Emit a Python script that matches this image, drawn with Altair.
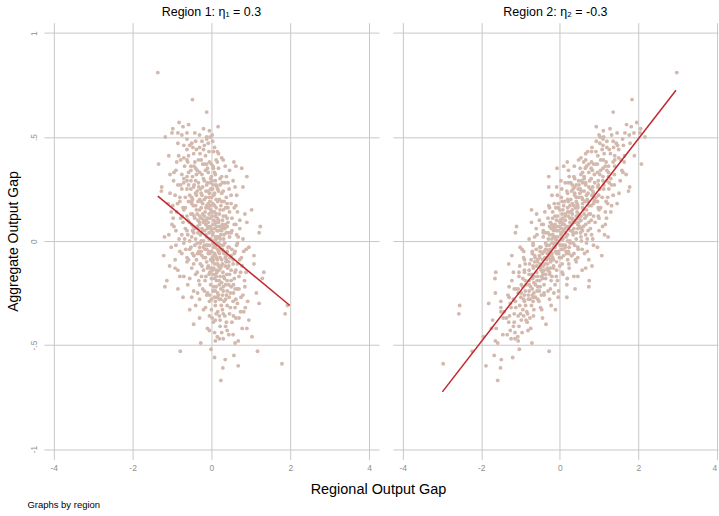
import altair as alt
import pandas as pd

# Aggregate output gap (shared y values) and the two regional output gaps
agg_gap = [
    0.81, 0.68, 0.62,
    0.55, 0.57, 0.55, 0.54, 0.52, 0.52, 0.52, 0.50, 0.53, 0.51, 0.50, 0.51,
    0.49, 0.47, 0.45, 0.48, 0.46, 0.44, 0.49, 0.50, 0.48, 0.43, 0.42, 0.40, 0.42, 0.41, 0.41, 0.41, 0.46, 0.44, 0.43, 0.45,
    0.37, 0.38, 0.35, 0.31, 0.39, 0.38, 0.36, 0.35, 0.39, 0.37, 0.34, 0.33, 0.38, 0.36, 0.32, 0.35, 0.39, 0.31, 0.34, 0.32,
    0.30, 0.31, 0.33, 0.30, 0.31, 0.37, 0.34, 0.36, 0.33, 0.39, 0.30, 0.36, 0.32, 0.35, 0.38,
    0.26, 0.24, 0.29, 0.27, 0.22, 0.28, 0.25, 0.21, 0.29, 0.26, 0.23, 0.20, 0.28, 0.25, 0.22,
    0.29, 0.27, 0.24, 0.21, 0.28, 0.25, 0.22, 0.29, 0.26, 0.20, 0.27, 0.23, 0.28, 0.21, 0.25,
    0.29, 0.22, 0.26, 0.24, 0.27, 0.20, 0.23, 0.26, 0.21, 0.29, 0.24, 0.27, 0.22, 0.25, 0.28,
    0.15, 0.18, 0.11, 0.14, 0.19, 0.12, 0.16, 0.19, 0.10, 0.13, 0.17, 0.11, 0.15, 0.19, 0.12,
    0.16, 0.18, 0.10, 0.14, 0.17, 0.11, 0.13, 0.19, 0.15, 0.12, 0.18, 0.10, 0.14, 0.16, 0.11,
    0.19, 0.13, 0.17, 0.10, 0.15, 0.12, 0.18, 0.14, 0.11, 0.16, 0.10, 0.13, 0.17, 0.12, 0.16,
    0.11, 0.18, 0.14, 0.19, 0.15, 0.12, 0.17, 0.10, 0.13, 0.16,
    0.02, 0.07, 0.04, 0.08, 0.05, 0.01, 0.09, 0.06, 0.03, 0.00, 0.08, 0.04, 0.01, 0.07, 0.09,
    0.03, 0.06, 0.00, 0.05, 0.08, 0.02, 0.09, 0.04, 0.07, 0.01, 0.05, 0.03, 0.08, 0.06, 0.00,
    0.09, 0.02, 0.05, 0.07, 0.03, 0.08, 0.01, 0.06, 0.04, 0.09, 0.02, 0.05, 0.08, 0.03, 0.06,
    0.01, 0.09, 0.04, 0.07, 0.02, 0.06, 0.00, 0.08, 0.03, 0.05, 0.09, 0.01, 0.07, 0.04, 0.06,
    -0.07, -0.03, -0.09, -0.05, -0.01, -0.08, -0.04, -0.06, -0.02, -0.09, -0.05, -0.01, -0.07, -0.03, -0.08,
    -0.04, -0.06, -0.02, -0.09, -0.05, -0.01, -0.07, -0.03, -0.08, -0.04, -0.06, -0.02, -0.09, -0.05, -0.01,
    -0.07, -0.03, -0.08, -0.04, -0.06, -0.02, -0.09, -0.05, -0.03, -0.07, -0.04, -0.06, -0.02, -0.08, -0.01,
    -0.05, -0.09, -0.03, -0.07, -0.04, -0.06, -0.02, -0.08, -0.05, -0.01,
    -0.12, -0.19, -0.11, -0.15, -0.18, -0.14, -0.17, -0.10, -0.13, -0.16, -0.19, -0.11, -0.14, -0.17, -0.12,
    -0.15, -0.18, -0.10, -0.13, -0.16, -0.19, -0.11, -0.14, -0.17, -0.12, -0.15, -0.18, -0.10, -0.13, -0.16,
    -0.19, -0.11, -0.14, -0.17, -0.12, -0.15, -0.18, -0.13, -0.16, -0.11, -0.19, -0.14, -0.17, -0.12, -0.15,
    -0.22, -0.25, -0.27, -0.21, -0.24, -0.28, -0.23, -0.26, -0.29, -0.21, -0.24, -0.27, -0.22, -0.25, -0.28,
    -0.23, -0.26, -0.29, -0.21, -0.24, -0.27, -0.22, -0.25, -0.28, -0.23, -0.26, -0.29, -0.21, -0.24, -0.27,
    -0.22, -0.25, -0.28, -0.23, -0.26,
    -0.35, -0.31, -0.30, -0.33, -0.37, -0.32, -0.36, -0.39, -0.31, -0.34, -0.38, -0.33, -0.36, -0.31, -0.35,
    -0.39, -0.32, -0.37, -0.34, -0.38, -0.33, -0.36,
    -0.46, -0.49, -0.42, -0.44, -0.41, -0.47, -0.43, -0.45, -0.48, -0.42, -0.46, -0.40,
    -0.53, -0.52, -0.56, -0.55, -0.53, -0.59, -0.60, -0.61, -0.67, -0.57,
    # second pass over the dense core of the cloud
    0.47, 0.44, 0.42, 0.48, 0.45, 0.41, 0.47, 0.43, 0.46, 0.40,
    0.33, 0.38, 0.31, 0.36, 0.34, 0.39, 0.32, 0.37, 0.35, 0.30, 0.33, 0.38, 0.31, 0.36, 0.34, 0.39, 0.32, 0.37,
    0.23, 0.27, 0.21, 0.25, 0.29, 0.22, 0.26, 0.20, 0.24, 0.28, 0.21, 0.25, 0.29, 0.23, 0.27, 0.20, 0.24, 0.28,
    0.22, 0.26, 0.23, 0.27, 0.21, 0.25,
    0.14, 0.18, 0.11, 0.16, 0.12, 0.19, 0.13, 0.17, 0.10, 0.15, 0.19, 0.12, 0.16, 0.11, 0.18, 0.14, 0.17, 0.13,
    0.10, 0.15, 0.19, 0.12, 0.16, 0.11, 0.18, 0.14, 0.13, 0.17,
    0.03, 0.07, 0.01, 0.05, 0.09, 0.02, 0.06, 0.04, 0.08, 0.00, 0.05, 0.09, 0.03, 0.07, 0.01, 0.06, 0.04, 0.08,
    0.02, 0.05, 0.09, 0.01, 0.06, 0.03, 0.07, 0.04, 0.08, 0.02, 0.05, 0.07,
    -0.02, -0.06, -0.09, -0.03, -0.07, -0.01, -0.05, -0.08, -0.04, -0.02, -0.06, -0.09, -0.03, -0.07, -0.01,
    -0.05, -0.08, -0.04, -0.02, -0.06, -0.09, -0.03, -0.07, -0.05, -0.01, -0.08, -0.04, -0.06, -0.02, -0.09,
    -0.13, -0.17, -0.11, -0.15, -0.19, -0.12, -0.16, -0.10, -0.14, -0.18, -0.11, -0.15, -0.19, -0.13, -0.17,
    -0.12, -0.16, -0.10, -0.14, -0.18, -0.11, -0.15, -0.19, -0.13, -0.17, -0.12,
    -0.23, -0.27, -0.21, -0.25, -0.29, -0.22, -0.26, -0.20, -0.24, -0.28, -0.21, -0.25, -0.29, -0.23, -0.27,
    -0.22, -0.26, -0.24, -0.28, -0.21,
    -0.33, -0.37, -0.31, -0.35, -0.39, -0.32, -0.36, -0.30, -0.34, -0.38, -0.31, -0.35, -0.37, -0.32,
    -0.43, -0.47, -0.41, -0.45, -0.49, -0.42, -0.44, -0.48,
    0.52, 0.56, 0.51, 0.54,
]

region1_gap = [
    -1.36, -0.48, -0.12,
    0.17, -0.82, -0.72, -0.98, -1.00, -0.85, -0.62, -1.17, -0.05, -0.30, -0.12, 0.02,
    -0.62, -0.50, -0.47, -0.24, -0.18, -0.20, -0.12, -0.03, 0.03, 0.15, 0.18, 0.26, -0.29, -0.58, -0.83, -1.08, -0.70, -0.38, -0.06, 0.08,
    -1.34, 0.57, 0.77, 0.90, -0.78, -0.60, -0.52, -0.40, -0.33, -0.22, -0.15, -0.08, -0.05, 0.04, 0.10,
    0.18, 0.30, 0.38, -0.90, -1.05, -0.70, -0.48, -0.30, -0.20, 0.00, -0.12, 0.46, -0.68, -0.58, 0.12,
    0.22, 0.62, -0.38, 0.05, -0.42,
    -1.26, -1.27, -0.96, -0.85, -0.92, -0.70, -0.62, -0.66, -0.52, -0.45, -0.40, -0.48, -0.33, -0.28, -0.24,
    -0.18, -0.12, -0.08, -0.14, -0.02, 0.03, 0.06, 0.10, 0.14, 0.12, 0.22, 0.26, 0.34, 0.38, 0.45,
    0.55, 0.64, 0.80, -0.36, -0.58, -0.30, -0.05, -0.22, 0.00, -0.40, 0.18, 0.05, -0.55, -0.75, 0.28,
    1.02, -1.10, -0.97, -0.88, -0.80, -0.74, -0.66, -0.58, -0.60, -0.52, -0.46, -0.42, -0.38, -0.34, -0.30,
    -0.26, -0.22, -0.20, -0.16, -0.12, -0.10, -0.06, -0.04, -0.02, 0.02, 0.04, 0.06, 0.08, 0.12, 0.15,
    0.16, 0.20, 0.24, 0.28, 0.30, 0.36, 0.40, 0.46, 0.52, 0.58, 0.72, 0.85, -0.98, -0.44, -0.08,
    -0.26, -0.50, 0.00, 0.32, -0.70, 0.10, 0.62, -0.14, -0.36, 0.36,
    -1.19, 1.24, 1.21, -1.00, -0.90, -0.82, -0.72, -0.66, -0.60, -0.55, -0.50, -0.45, -0.40, -0.36, -0.30,
    -0.28, -0.24, -0.20, -0.17, -0.14, -0.12, -0.08, -0.06, -0.03, -0.02, 0.00, 0.03, 0.05, 0.08, 0.10,
    0.12, 0.15, 0.18, 0.21, 0.24, 0.28, 0.31, 0.34, 0.38, 0.42, 0.46, 0.52, 0.58, 0.64, 0.72,
    0.80, 0.90, -0.26, -0.46, 0.20, -0.10, 0.06, 0.36, -0.75, 0.26, -0.20, 0.12, 0.14, 0.44, -0.34,
    -1.21, -1.02, -0.92, -0.80, -0.70, -0.62, -0.55, -0.48, -0.42, -0.38, -0.32, -0.28, -0.24, -0.20, -0.15,
    -0.12, -0.08, -0.05, -0.02, 0.01, 0.04, 0.07, 0.10, 0.13, 0.16, 0.20, 0.23, 0.26, 0.30, 0.34,
    0.38, 0.42, 0.47, 0.52, 0.58, 0.64, 0.72, 0.82, 0.95, 1.08, -0.65, -0.35, -0.10, 0.02, 0.18,
    0.40, 0.55, -0.30, -0.45, 0.28, 0.08, -0.18, 0.35, -0.06, 0.12,
    -1.06, -1.13, 1.08, 1.33, 1.29, -0.85, -0.70, -0.62, -0.50, -0.40, -0.32, -0.28, -0.20, -0.14, -0.08,
    -0.04, 0.00, 0.03, 0.06, 0.10, 0.13, 0.16, 0.19, 0.22, 0.25, 0.29, 0.33, 0.37, 0.41, 0.46,
    0.50, 0.55, 0.62, 0.70, 0.78, 0.88, -0.55, -0.10, 0.04, 0.28, 0.40, 0.12, -0.25, 0.44, 0.60,
    -1.18, 1.14, -0.72, -0.60, -0.45, -0.30, -0.22, -0.12, -0.05, -0.02, 0.04, 0.08, 0.12, 0.16, 0.20,
    0.24, 0.28, 0.32, 0.36, 0.40, 0.45, 0.50, 0.56, 0.62, 0.70, 0.80, 0.92, 0.20, -0.18, 0.14,
    0.30, -0.35, 0.00, 0.60, 0.38,
    1.87, 1.93, 1.21, -0.55, -0.30, -0.15, -0.05, 0.05, 0.10, 0.16, 0.22, 0.28, 0.34, 0.40, 0.46,
    0.52, 0.60, 0.70, 0.82, 0.95, 0.00, 0.20,
    1.03, -0.27, -0.10, 0.08, 0.22, 0.30, 0.40, 0.55, 0.68, 0.78, 0.15, -0.45,
    -0.79, -0.01, 0.08, 0.57, 1.17, 1.79, 0.68, 0.29, 0.24, 0.35,
    # second pass over the dense core of the cloud
    -0.85, -0.62, -0.45, -0.40, -0.30, -0.15, -0.08, 0.05, -0.55, -0.70,
    -0.95, -0.88, -0.62, -0.44, -0.36, -0.26, -0.24, -0.18, -0.10, -0.02, 0.08, 0.15, 0.26, 0.35, -0.52, -0.62, -0.75, 0.00,
    -1.05, -0.78, -0.80, -0.52, -0.62, -0.38, -0.32, -0.18, -0.14, -0.10, -0.06, -0.02, 0.02, 0.08, 0.12, 0.20, 0.30, 0.42,
    0.50, 0.60, -0.26, -0.44, -0.50, 0.16,
    -1.02, -0.86, -0.78, -0.72, -0.62, -0.50, -0.48, -0.40, -0.34, -0.30, -0.26, -0.18, -0.14, -0.04, -0.08, 0.04, 0.08, 0.12,
    0.18, 0.22, 0.26, 0.30, 0.42, 0.40, 0.50, 0.66, -0.22, -0.02,
    -1.08, -0.95, -0.68, -0.62, -0.56, -0.50, -0.42, -0.34, -0.30, -0.26, -0.22, -0.18, -0.14, -0.10, -0.06, -0.01, 0.04, 0.08,
    0.10, 0.14, 0.18, 0.22, 0.26, 0.32, 0.40, 0.50, 0.62, 0.68, -0.48, 0.30,
    -0.90, -0.75, -0.58, -0.52, -0.44, -0.36, -0.26, -0.20, -0.16, -0.12, -0.04, 0.05, 0.06, 0.10, 0.14,
    0.18, 0.22, 0.25, 0.30, 0.32, 0.38, 0.45, 0.50, 0.60, 0.66, 0.76, 0.88, -0.30, 0.08, 0.15,
    -0.92, -0.80, -0.45, -0.36, -0.16, -0.24, -0.06, -0.12, 0.02, 0.08, 0.09, 0.14, 0.20, 0.23, 0.31,
    0.35, 0.39, 0.44, 0.50, 0.58, 0.66, 0.74, 0.84, -0.02, 0.12, 0.18,
    -0.85, -0.50, -0.30, -0.10, 0.10, 0.06, 0.18, 0.26, 0.30, 0.36, 0.44, 0.48, 0.55, 0.66, 0.75,
    0.85, -0.05, 0.10, 0.24, 0.56,
    -0.20, 0.02, 0.25, 0.30, 0.38, 0.48, 0.56, 0.66, 0.74, 0.10, -0.40, 0.12, 0.62, 0.86,
    -0.05, 0.20, 0.36, 0.44, 0.60, 0.90, 0.26, 0.10,
    -0.42, -0.58, -0.75, -0.20,
]

region2_gap = [
    2.98, 1.84, 1.36,
    0.93, 1.96, 1.82, 2.06, 2.04, 1.89, 1.66, 2.17, 1.11, 1.32, 1.12, 1.00,
    1.60, 1.44, 1.37, 1.20, 1.10, 1.08, 1.10, 1.03, 0.93, 0.71, 0.66, 0.54, 1.13, 1.40, 1.65, 1.90, 1.62, 1.26, 0.92, 0.82,
    2.08, 0.19, -0.07, -0.28, 1.56, 1.36, 1.24, 1.10, 1.11, 0.96, 0.83, 0.74, 0.81, 0.68, 0.54,
    0.52, 0.48, 0.24, 1.58, 1.69, 1.30, 1.10, 0.96, 0.80, 0.62, 0.86, 0.22, 1.40, 1.24, 0.66,
    0.38, 0.10, 1.02, 0.65, 1.18,
    1.78, 1.75, 1.54, 1.39, 1.36, 1.26, 1.12, 1.08, 1.10, 0.97, 0.86, 0.88, 0.89, 0.78, 0.68,
    0.76, 0.66, 0.56, 0.56, 0.58, 0.47, 0.38, 0.48, 0.38, 0.28, 0.32, 0.20, 0.22, 0.04, 0.05,
    0.03, -0.20, -0.28, 0.84, 1.12, 0.70, 0.51, 0.74, 0.42, 0.98, 0.30, 0.49, 0.99, 1.25, 0.28,
    -0.72, 1.46, 1.19, 1.16, 1.18, 0.98, 0.98, 0.96, 0.80, 0.78, 0.80, 0.64, 0.68, 0.72, 0.54,
    0.58, 0.58, 0.40, 0.44, 0.46, 0.32, 0.32, 0.42, 0.32, 0.22, 0.32, 0.14, 0.20, 0.20, 0.07,
    0.22, 0.06, 0.10, -0.08, 0.00, -0.12, -0.04, -0.18, -0.30, -0.26, -0.52, -0.59, 1.32, 0.68, 0.40,
    0.48, 0.86, 0.28, 0.06, 1.00, 0.14, -0.28, 0.34, 0.62, -0.04,
    1.23, -1.10, -1.13, 1.16, 1.00, 0.84, 0.90, 0.78, 0.66, 0.55, 0.66, 0.53, 0.42, 0.50, 0.48,
    0.34, 0.36, 0.20, 0.27, 0.30, 0.16, 0.26, 0.14, 0.17, 0.04, 0.10, 0.03, 0.11, 0.04, -0.10,
    0.06, -0.11, -0.08, -0.07, -0.18, -0.12, -0.29, -0.22, -0.30, -0.24, -0.42, -0.42, -0.42, -0.58, -0.60,
    -0.78, -0.72, 0.34, 0.60, -0.16, 0.22, -0.06, -0.20, 0.81, -0.16, 0.38, -0.10, 0.00, -0.36, 0.46,
    1.07, 0.96, 0.74, 0.70, 0.68, 0.46, 0.47, 0.36, 0.38, 0.20, 0.22, 0.26, 0.10, 0.14, -0.01,
    0.04, -0.04, 0.01, -0.16, -0.11, -0.06, -0.21, -0.16, -0.29, -0.24, -0.32, -0.27, -0.44, -0.40, -0.36,
    -0.52, -0.48, -0.63, -0.60, -0.70, -0.68, -0.90, -0.92, -1.01, -1.22, 0.57, 0.23, 0.06, -0.18, -0.20,
    -0.50, -0.73, 0.24, 0.31, -0.36, -0.20, 0.14, -0.51, -0.04, -0.14,
    0.82, 0.75, -1.30, -1.63, -1.65, 0.57, 0.36, 0.42, 0.24, 0.08, -0.06, 0.06, -0.08, -0.20, -0.16,
    -0.26, -0.36, -0.23, -0.32, -0.42, -0.51, -0.38, -0.47, -0.56, -0.49, -0.59, -0.69, -0.57, -0.67, -0.78,
    -0.88, -0.77, -0.90, -1.04, -1.02, -1.18, 0.19, -0.16, -0.36, -0.50, -0.78, -0.40, -0.09, -0.68, -0.90,
    0.74, -1.64, 0.18, 0.18, -0.03, -0.26, -0.24, -0.40, -0.53, -0.40, -0.52, -0.62, -0.56, -0.66, -0.76,
    -0.70, -0.80, -0.90, -0.78, -0.88, -0.99, -0.94, -1.06, -1.18, -1.16, -1.32, -1.50, -0.62, -0.30, -0.68,
    -0.74, -0.15, -0.56, -1.06, -0.90,
    -2.57, -2.55, -1.81, -0.11, -0.44, -0.49, -0.67, -0.83, -0.72, -0.84, -0.98, -0.94, -1.06, -1.02, -1.16,
    -1.30, -1.24, -1.44, -1.50, -1.71, -0.66, -0.92,
    -1.95, -0.71, -0.74, -0.96, -1.04, -1.24, -1.26, -1.45, -1.64, -1.62, -1.07, -0.35,
    -0.27, -1.03, -1.20, -1.67, -2.23, -2.97, -1.88, -1.51, -1.58, -1.49,
    # second pass over the dense core of the cloud
    1.79, 1.50, 1.29, 1.36, 1.20, 0.97, 1.02, 0.81, 1.47, 1.50,
    1.61, 1.64, 1.24, 1.16, 1.04, 1.04, 0.88, 0.92, 0.80, 0.62, 0.58, 0.61, 0.36, 0.37, 1.20, 1.40, 1.39, 0.74,
    1.51, 1.32, 1.22, 1.02, 1.20, 0.82, 0.84, 0.58, 0.62, 0.66, 0.48, 0.52, 0.56, 0.38, 0.42, 0.20, 0.18, 0.14,
    -0.06, -0.08, 0.72, 0.98, 0.92, 0.34,
    1.30, 1.22, 1.00, 1.04, 0.86, 0.88, 0.74, 0.74, 0.54, 0.60, 0.64, 0.42, 0.46, 0.26, 0.44, 0.24, 0.26, 0.14,
    0.02, 0.08, 0.12, -0.06, -0.10, -0.18, -0.14, -0.38, 0.48, 0.36,
    1.14, 1.09, 0.70, 0.72, 0.74, 0.54, 0.54, 0.42, 0.46, 0.26, 0.32, 0.36, 0.20, 0.24, 0.08, 0.13, 0.04, 0.08,
    -0.06, -0.04, 0.00, -0.20, -0.14, -0.26, -0.26, -0.42, -0.46, -0.64, 0.58, -0.16,
    0.86, 0.63, 0.40, 0.46, 0.30, 0.34, 0.16, 0.04, 0.08, 0.08, -0.08, -0.23, -0.12, -0.24, -0.16,
    -0.28, -0.38, -0.33, -0.34, -0.44, -0.56, -0.51, -0.64, -0.70, -0.68, -0.92, -0.96, 0.18, -0.12, -0.33,
    0.66, 0.46, 0.23, 0.06, -0.22, 0.00, -0.26, -0.08, -0.30, -0.44, -0.31, -0.44, -0.58, -0.49, -0.65,
    -0.59, -0.71, -0.64, -0.78, -0.94, -0.88, -1.04, -1.22, -0.24, -0.46, -0.42,
    0.39, -0.04, -0.12, -0.40, -0.68, -0.50, -0.70, -0.66, -0.78, -0.92, -0.86, -0.98, -1.13, -1.12, -1.29,
    -1.29, -0.47, -0.58, -0.80, -0.98,
    -0.46, -0.76, -0.87, -1.00, -1.16, -1.12, -1.28, -1.26, -1.42, -0.86, -0.22, -0.82, -1.36, -1.50,
    -0.81, -1.14, -1.18, -1.34, -1.58, -1.74, -1.14, -1.06,
    1.46, 1.70, 1.77, 1.28,
]

# Fitted regression lines (end points)
fit1_x = [-1.36, 1.99]
fit1_y = [0.216, -0.31]
fit2_x = [-2.99, 2.96]
fit2_y = [-0.725, 0.725]

panel_titles = ["Region 1: η₁ = 0.3", "Region 2: η₂ = -0.3"]
x_ticks = [-4, -2, 0, 2, 4]
y_ticks = [-1, -0.5, 0, 0.5, 1]

PT_COLOR = "#d3b9ad"
LINE_COLOR = "#c1272d"
GRID = "#c8c8c8"
LABEL = "#8f8f8f"

df1 = pd.DataFrame({"x": region1_gap, "y": agg_gap})
df2 = pd.DataFrame({"x": region2_gap, "y": agg_gap})
fit1 = pd.DataFrame({"x": fit1_x, "y": fit1_y})
fit2 = pd.DataFrame({"x": fit2_x, "y": fit2_y})

y_label_expr = ("datum.value == 1 ? '1' : datum.value == 0.5 ? '.5' : datum.value == 0 ? '0' : "
                "datum.value == -0.5 ? '-.5' : '-1'")
x_label_expr = "datum.value < 0 ? '-' + abs(datum.value) : '' + datum.value"


def panel(df, fit, title, xdom, width, first):
    xscale = alt.Scale(domain=xdom, nice=False, zero=False)
    yscale = alt.Scale(domain=[-1.05, 1.05], nice=False, zero=False)
    if first:
        xaxis = alt.Axis(values=x_ticks, labelExpr=x_label_expr, grid=True, gridColor=GRID,
                         ticks=False, domain=False, labelFontSize=8.5, labelColor=LABEL,
                         labelPadding=4, title="Graphs by region", titleFontSize=9.5,
                         titleFontWeight="normal", titleColor="black", titleAlign="left",
                         titleBaseline="middle", titleX=-17, titleY=45)
        yaxis = alt.Axis(values=y_ticks, labelExpr=y_label_expr, grid=True, gridColor=GRID,
                         ticks=False, domain=False, labelFontSize=8.5, labelColor=LABEL,
                         labelAngle=270, labelAlign="center", labelBaseline="bottom",
                         labelPadding=5, title="Aggregate Output Gap", titleFontSize=14,
                         titleFontWeight="normal", titleColor="black", titlePadding=9)
    else:
        xaxis = alt.Axis(values=x_ticks, labelExpr=x_label_expr, grid=True, gridColor=GRID,
                         ticks=False, domain=False, labelFontSize=8.5, labelColor=LABEL,
                         labelPadding=4, labelFlush=2, title="Regional Output Gap",
                         titleFontSize=14.5, titleFontWeight="normal", titleColor="black",
                         titleAlign="center", titleBaseline="middle", titleX=-15, titleY=30)
        yaxis = alt.Axis(values=y_ticks, grid=True, gridColor=GRID, ticks=False, domain=False,
                         labels=False, title=None)
    pts = alt.Chart(df).mark_circle(size=15, opacity=1, color=PT_COLOR).encode(
        x=alt.X("x:Q", scale=xscale, axis=xaxis),
        y=alt.Y("y:Q", scale=yscale, axis=yaxis),
    )
    ln = alt.Chart(fit).mark_line(color=LINE_COLOR, strokeWidth=1.5).encode(
        x=alt.X("x:Q", scale=xscale, axis=xaxis),
        y=alt.Y("y:Q", scale=yscale, axis=yaxis),
    )
    return alt.layer(pts, ln).properties(
        width=width, height=438,
        title=alt.TitleParams(text=title, fontSize=12.5, fontWeight="normal", color="black",
                              anchor="middle", offset=4),
    )


p1 = panel(df1, fit1, panel_titles[0], [-4.25, 4.25], 336, True)
p2 = panel(df2, fit2, panel_titles[1], [-4.25, 4.03], 326, False)

chart = alt.hconcat(p1, p2, spacing=14, bounds="flush").properties(
    padding={"left": 6, "top": 5, "right": 0, "bottom": 0}
).configure(font="Liberation Sans").configure_view(stroke="transparent")

chart.save("out.html", embed_options={"renderer": "svg", "actions": False})
